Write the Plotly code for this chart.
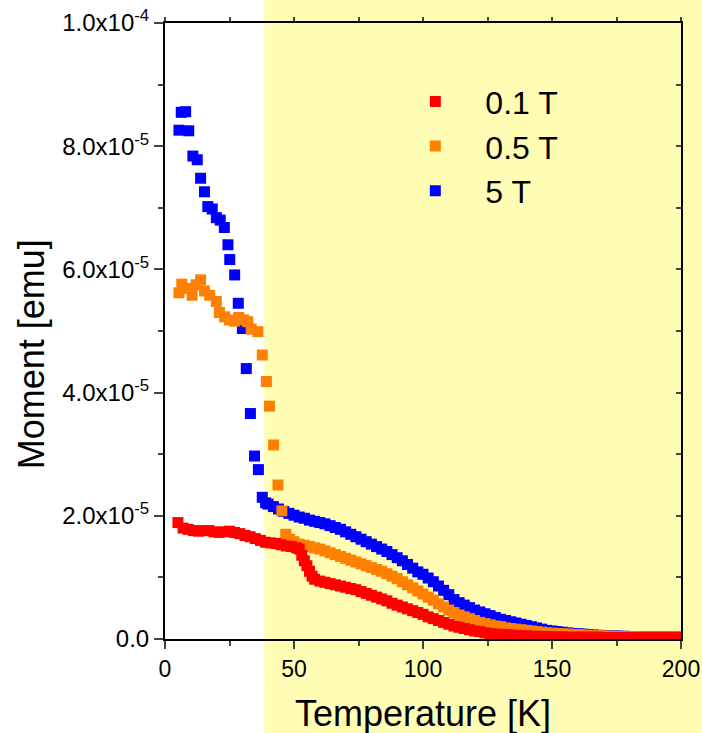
import plotly.graph_objects as go

# ---------------- data (moment in units of 1e-5 emu) ----------------
t_01 = [5, 7, 9, 11, 13, 15, 17, 19, 21, 23, 25, 27, 29, 31, 33, 35, 37, 39, 41, 43, 45, 47, 49, 51,
        52, 53, 54, 55, 56, 57, 58, 60, 62, 64, 66, 68, 70, 72, 74, 76, 78, 80, 82, 84, 86, 88, 90,
        92, 94, 96, 98, 100, 102, 104, 106, 108, 110, 112, 114, 116, 118, 120, 122, 124, 126, 128,
        130, 132, 134, 136, 138, 140, 142, 144, 146, 148, 150, 152, 154, 156, 158, 160, 162, 164,
        166, 168, 170, 172, 174, 176, 178, 180, 182, 184, 186, 188, 190, 192, 194, 196, 198, 200]
m_01 = [1.89, 1.80, 1.78, 1.76, 1.75, 1.76, 1.76, 1.74, 1.73, 1.74, 1.75, 1.73, 1.71, 1.68, 1.66,
        1.63, 1.60, 1.57, 1.56, 1.55, 1.53, 1.51, 1.50, 1.48,
        1.46, 1.36, 1.27, 1.19, 1.10, 1.02, 0.97, 0.94, 0.92, 0.90, 0.88, 0.86, 0.84, 0.82, 0.80,
        0.77, 0.74, 0.71, 0.68, 0.65, 0.62, 0.58, 0.55, 0.52, 0.49, 0.46, 0.43, 0.40, 0.36, 0.33,
        0.30, 0.27, 0.24, 0.21, 0.19, 0.17, 0.15, 0.13, 0.12, 0.10, 0.09, 0.08, 0.075, 0.07, 0.065,
        0.06, 0.055, 0.05, 0.045, 0.045, 0.04, 0.04, 0.035, 0.035, 0.035, 0.03, 0.03, 0.03, 0.03,
        0.03, 0.03, 0.03, 0.025, 0.025, 0.025, 0.025, 0.025, 0.025, 0.025, 0.025, 0.025, 0.025,
        0.025, 0.025, 0.025, 0.025, 0.025, 0.025]

t_05 = [5.4, 6.5, 8.6, 10.5, 12.1, 13.8, 15.3, 17.3, 19.9, 21.1, 23.1, 25.0, 27.0, 28.6, 30.5,
        32.1, 33.4, 36.0, 37.7, 39.3, 40.5, 42.1, 43.8, 45.3, 46.8, 48.3,
        50, 52, 54, 56, 58, 60, 62, 64, 66, 68, 70, 72, 74, 76, 78, 80, 82, 84, 86, 88, 90, 92, 94,
        96, 98, 100, 102, 104, 106, 108, 110, 112, 114, 116, 118, 120, 122, 124, 126, 128, 130, 132,
        134, 136, 138, 140, 142, 144, 146, 148, 150, 152, 154, 156, 158, 160, 162, 164, 166, 168,
        170, 172, 174, 176, 178, 180, 182, 184, 186, 188, 190, 192, 194, 196, 198, 200]
m_05 = [5.62, 5.76, 5.69, 5.58, 5.75, 5.83, 5.65, 5.58, 5.48, 5.30, 5.23, 5.18, 5.16, 5.22, 5.18,
        5.15, 5.03, 4.99, 4.61, 4.18, 3.78, 3.15, 2.50, 2.08, 1.70, 1.62,
        1.58, 1.54, 1.52, 1.50, 1.48, 1.46, 1.43, 1.40, 1.37, 1.34, 1.31, 1.28, 1.25, 1.22, 1.19,
        1.16, 1.13, 1.10, 1.06, 1.02, 0.98, 0.93, 0.88, 0.83, 0.78, 0.73, 0.68, 0.63, 0.57, 0.52,
        0.47, 0.43, 0.39, 0.36, 0.33, 0.30, 0.27, 0.25, 0.23, 0.21, 0.20, 0.18, 0.17, 0.16, 0.15,
        0.14, 0.13, 0.12, 0.11, 0.10, 0.095, 0.09, 0.085, 0.08, 0.075, 0.07, 0.065, 0.06, 0.055,
        0.05, 0.05, 0.045, 0.045, 0.04, 0.04, 0.04, 0.04, 0.035, 0.035, 0.035, 0.035, 0.035, 0.035,
        0.035, 0.035, 0.035]

t_5 = [5.4, 6.3, 8.0, 9.2, 10.8, 12.5, 13.8, 15.3, 16.6, 18.3, 19.9, 21.4, 23.0, 24.4, 25.1, 27.0,
       28.4, 30.0, 31.5, 33.1, 34.7, 36.2, 37.7, 39.0,
       40, 42, 44, 46, 48, 50, 52, 54, 56, 58, 60, 62, 64, 66, 68, 70, 72, 74, 76, 78, 80, 82, 84,
       86, 88, 90, 92, 94, 96, 98, 100, 102, 104, 106, 108, 110, 112, 114, 116, 118, 120, 122, 124,
       126, 128, 130, 132, 134, 136, 138, 140, 142, 144, 146, 148, 150, 152, 154, 156, 158, 160,
       162, 164, 166, 168, 170, 172, 174, 176, 178, 180, 182, 184, 186, 188, 190, 192, 194, 196,
       198, 200]
m_5 = [8.26, 8.55, 8.56, 8.25, 7.84, 7.78, 7.48, 7.26, 7.02, 6.98, 6.84, 6.80, 6.68, 6.40, 6.16,
       5.91, 5.45, 5.04, 4.39, 3.66, 2.97, 2.75, 2.30, 2.21,
       2.19, 2.15, 2.11, 2.07, 2.04, 2.01, 1.98, 1.96, 1.93, 1.91, 1.89, 1.87, 1.84, 1.81, 1.78,
       1.74, 1.70, 1.66, 1.62, 1.58, 1.54, 1.50, 1.46, 1.42, 1.37, 1.32, 1.27, 1.21, 1.15, 1.09,
       1.05, 0.99, 0.93, 0.86, 0.79, 0.72, 0.64, 0.59, 0.55, 0.51, 0.47, 0.44, 0.41, 0.38, 0.35,
       0.32, 0.30, 0.28, 0.26, 0.24, 0.22, 0.20, 0.18, 0.16, 0.14, 0.13, 0.12, 0.11, 0.10, 0.09,
       0.085, 0.08, 0.07, 0.065, 0.06, 0.055, 0.05, 0.05, 0.045, 0.045, 0.04, 0.04, 0.04, 0.04,
       0.04, 0.04, 0.04, 0.04, 0.04, 0.04, 0.04, 0.04]

series_names = ["0.1 T", "0.5 T", "5 T"]
series_colors = ["#FF0000", "#FF8000", "#0000FF"]

y_tickvals = [0, 2, 4, 6, 8, 10]
y_ticktext = ["0.0", "2.0x10<sup>-5</sup>", "4.0x10<sup>-5</sup>", "6.0x10<sup>-5</sup>",
              "8.0x10<sup>-5</sup>", "1.0x10<sup>-4</sup>"]
x_tickvals = [0, 50, 100, 150, 200]
shade_start_T = 38.5

FONT = "Liberation Sans, Arial, sans-serif"

fig = go.Figure()
# draw order: 5 T at bottom, then 0.5 T, then 0.1 T on top
for t, m, name, col in [(t_5, m_5, series_names[2], series_colors[2]),
                        (t_05, m_05, series_names[1], series_colors[1]),
                        (t_01, m_01, series_names[0], series_colors[0])]:
    fig.add_trace(go.Scatter(x=t, y=m, mode="markers", name=name,
                             marker=dict(symbol="square", size=11, color=col, line=dict(width=0))))

# empty trace to create mirrored top/right axes
fig.add_trace(go.Scatter(x=[None], y=[None], xaxis="x2", yaxis="y2", showlegend=False,
                         hoverinfo="skip", mode="markers"))

x_range = [0, 200]
fig.update_layout(
    width=702, height=733,
    margin=dict(l=165, r=21, t=23, b=94),
    paper_bgcolor="white",
    plot_bgcolor="rgba(0,0,0,0)",
    font=dict(family=FONT, color="black"),
    showlegend=True,
    legend=dict(x=0.427, y=0.917, xanchor="left", yanchor="top", traceorder="reversed",
                bgcolor="rgba(0,0,0,0)", font=dict(size=32, family=FONT),
                itemwidth=90, itemsizing="trace"),
    xaxis=dict(range=x_range, tickvals=x_tickvals, ticks="outside", ticklen=8, tickwidth=1.5,
               showline=True, linecolor="black", linewidth=2, showgrid=False, zeroline=False,
               tickfont=dict(size=23, family=FONT), automargin=False,
               minor=dict(dtick=25, ticks="outside", ticklen=5, tickwidth=1.5, showgrid=False)),
    yaxis=dict(range=[0, 10], tickvals=y_tickvals, ticktext=y_ticktext, ticks="outside",
               ticklen=9, tickwidth=1.5, showline=True, linecolor="black", linewidth=2,
               showgrid=False, zeroline=False, tickfont=dict(size=24, family=FONT),
               automargin=False,
               minor=dict(dtick=1, ticks="outside", ticklen=5, tickwidth=1.5, showgrid=False)),
    xaxis2=dict(range=x_range, overlaying="x", side="top", showticklabels=False,
                ticks="outside", ticklen=4, tickwidth=1.5, dtick=25, tick0=0, automargin=False,
                showline=True, linecolor="black", linewidth=2, showgrid=False, zeroline=False),
    yaxis2=dict(range=[0, 10], overlaying="y", side="right", showticklabels=False,
                ticks="inside", ticklen=5, tickwidth=1.5, dtick=1, tick0=0, automargin=False,
                showline=True, linecolor="black", linewidth=2, showgrid=False, zeroline=False),
    shapes=[dict(type="rect", xref="paper", yref="paper",
                 x0=shade_start_T / x_range[1], x1=1.2, y0=-0.3, y1=1.2,
                 fillcolor="#FFFDB3", line=dict(width=0), layer="below")],
    annotations=[
        dict(text="Moment [emu]", xref="paper", yref="paper", x=-0.258, y=0.462,
             textangle=-90, showarrow=False, xanchor="center", yanchor="middle",
             font=dict(size=36, family=FONT)),
        dict(text="Temperature [K]", xref="paper", yref="paper", x=0.5, y=-0.121,
             showarrow=False, xanchor="center", yanchor="middle",
             font=dict(size=36, family=FONT)),
    ],
)

fig.write_html("out.html")
